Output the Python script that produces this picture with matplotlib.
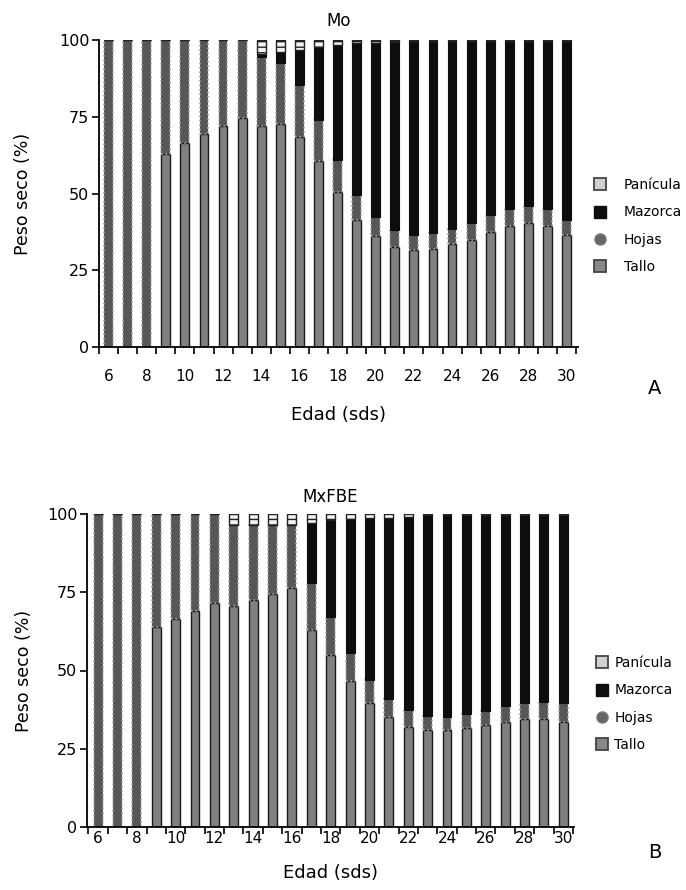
import matplotlib
matplotlib.use("Agg")
import matplotlib.pyplot as plt
from matplotlib.lines import Line2D
import numpy as np

plt.rcParams['font.family'] = ['DejaVu Sans']
plt.rcParams['hatch.color'] = '#9a9a9a'
plt.rcParams['hatch.linewidth'] = 1.0

weeks = list(range(6, 31))
tick_weeks = [6, 8, 10, 12, 14, 16, 18, 20, 22, 24, 26, 28, 30]
yticks = [0, 25, 50, 75, 100]
components = ["Panícula", "Mazorca", "Hojas", "Tallo"]

# Panel A (Mo) – percentage of dry weight per organ
tallo_A = [0, 0, 0, 63, 66.5, 69.5, 72, 74.5, 72, 72.5, 68.5, 60.5, 50.5, 41.5,
           36, 32.5, 31.5, 32, 33.5, 35, 37.5, 39.5, 40.5, 39.5, 36.5]
hojas_A = [100, 100, 100, 37, 33.5, 30.5, 28, 25.5, 22.5, 20, 17, 13.5, 10.5, 8,
           6.5, 5.5, 5, 5, 5, 5.5, 5.5, 5.5, 5.5, 5.5, 5]
mazorca_A = [0, 0, 0, 0, 0, 0, 0, 0, 1.0, 3.5, 11.2, 23.8, 37.5, 49.6,
             56.5, 61.2, 63.1, 62.6, 61.1, 59.1, 56.6, 54.6, 53.6, 54.6, 58.1]
panicula_A = [0, 0, 0, 0, 0, 0, 0, 0, 4.5, 4.0, 3.3, 2.2, 1.5, 0.9,
              1.0, 0.8, 0.4, 0.4, 0.4, 0.4, 0.4, 0.4, 0.4, 0.4, 0.4]

# Panel B (MxFBE)
tallo_B = [0, 0, 0, 64, 66.5, 69, 71.5, 70.5, 72.5, 74.5, 76.5, 63, 55, 46.5,
           39.5, 35, 32, 31, 31, 31.5, 32.5, 33.5, 34.5, 34.5, 33.5]
hojas_B = [100, 100, 100, 36, 33.5, 31, 28.5, 26, 24, 22, 20, 15, 12, 9,
           7.5, 6, 5.5, 4.5, 4, 4.5, 4.5, 5, 5, 5.5, 6]
mazorca_B = [0, 0, 0, 0, 0, 0, 0, 0, 0, 0, 0, 19, 31, 42.8,
             51.8, 57.8, 61.7, 64.1, 64.6, 63.6, 62.6, 61.1, 60.1, 59.6, 60.1]
panicula_B = [0, 0, 0, 0, 0, 0, 0, 3.5, 3.5, 3.5, 3.5, 3, 2, 1.7,
              1.2, 1.2, 0.8, 0.4, 0.4, 0.4, 0.4, 0.4, 0.4, 0.4, 0.4]

W, H = 686, 890
fig = plt.figure(figsize=(W / 100, H / 100), dpi=100)


def px_axes(l, t, r, b):
    return fig.add_axes([l / W, 1 - b / H, (r - l) / W, (b - t) / H])


def draw_panel(ax, tallo, hojas, mazorca, panicula, title, xlim, label_pad,
               title_pad, ylabel_pad):
    x = np.array(weeks, dtype=float)
    tallo = np.array(tallo); hojas = np.array(hojas)
    mazorca = np.array(mazorca); panicula = np.array(panicula)
    w = 0.46
    ax.bar(x, tallo, width=w, color='#808080', edgecolor='#1a1a1a', linewidth=1.0)
    ax.bar(x, hojas, width=w, bottom=tallo, color='#575757', edgecolor='#a0a0a0',
           linewidth=1.2, linestyle=':')
    ax.bar(x, mazorca, width=w, bottom=tallo + hojas, color='#0d0d0d',
           edgecolor='#0d0d0d', linewidth=0.8)
    ax.bar(x, panicula, width=w, bottom=tallo + hojas + mazorca, color='#f2f2f2',
           edgecolor='#222222', linewidth=1.0, hatch='---')
    ax.set_xlim(*xlim)
    ax.set_ylim(0, 100)
    ax.set_yticks(yticks)
    ax.set_yticklabels([str(v) for v in yticks])
    ax.set_xticks(tick_weeks)
    ax.set_xticklabels([str(v) for v in tick_weeks])
    ax.set_xticks(np.arange(5.5, 31.0, 1.0), minor=True)
    ax.tick_params(axis='x', which='major', length=0, pad=label_pad, labelsize=11)
    ax.tick_params(axis='x', which='minor', length=5, width=1.2, direction='out')
    ax.tick_params(axis='y', length=5, width=1.2, labelsize=11.5, pad=2)
    for s in ['top', 'right']:
        ax.spines[s].set_visible(False)
    for s in ['left', 'bottom']:
        ax.spines[s].set_linewidth(1.3)
    ax.set_title(title, fontsize=12, pad=title_pad)
    ax.set_ylabel('Peso seco (%)', fontsize=12.5, labelpad=ylabel_pad)


axA = px_axes(99, 40, 578, 347)
draw_panel(axA, tallo_A, hojas_A, mazorca_A, panicula_A, 'Mo', (5.53, 30.6), 16,
           10, 19)
axA.set_xlabel('Edad (sds)', fontsize=13, labelpad=16)

axB = px_axes(87, 514, 574, 827)
draw_panel(axB, tallo_B, hojas_B, mazorca_B, panicula_B, 'MxFBE', (5.43, 30.55), 3,
           9, 10)
axB.set_xlabel('Edad (sds)', fontsize=13, labelpad=13)

handles = [
    Line2D([], [], marker='s', linestyle='none', markersize=8, markerfacecolor='#d0d0d0',
           markeredgecolor='#444444', markeredgewidth=1.3),
    Line2D([], [], marker='s', linestyle='none', markersize=8, markerfacecolor='#0d0d0d',
           markeredgecolor='#0d0d0d'),
    Line2D([], [], marker='o', linestyle='none', markersize=8, markerfacecolor='#666666',
           markeredgecolor='#777777'),
    Line2D([], [], marker='s', linestyle='none', markersize=8, markerfacecolor='#888888',
           markeredgecolor='#444444', markeredgewidth=1.3),
]

fig.legend(handles, components, loc='center left', bbox_to_anchor=(586 / W, 1 - 226 / H),
           frameon=False, fontsize=10, labelspacing=0.95, handletextpad=1.2,
           handlelength=1.0, borderpad=0)
fig.legend(handles, components, loc='center left', bbox_to_anchor=(588 / W, 1 - 704 / H),
           frameon=False, fontsize=10, labelspacing=0.95, handletextpad=0.4,
           handlelength=1.0, borderpad=0)

fig.text(655 / W, 1 - 388 / H, 'A', fontsize=14, ha='center', va='center')
fig.text(655 / W, 1 - 852 / H, 'B', fontsize=14, ha='center', va='center')

fig.savefig('out.png', dpi=100)
